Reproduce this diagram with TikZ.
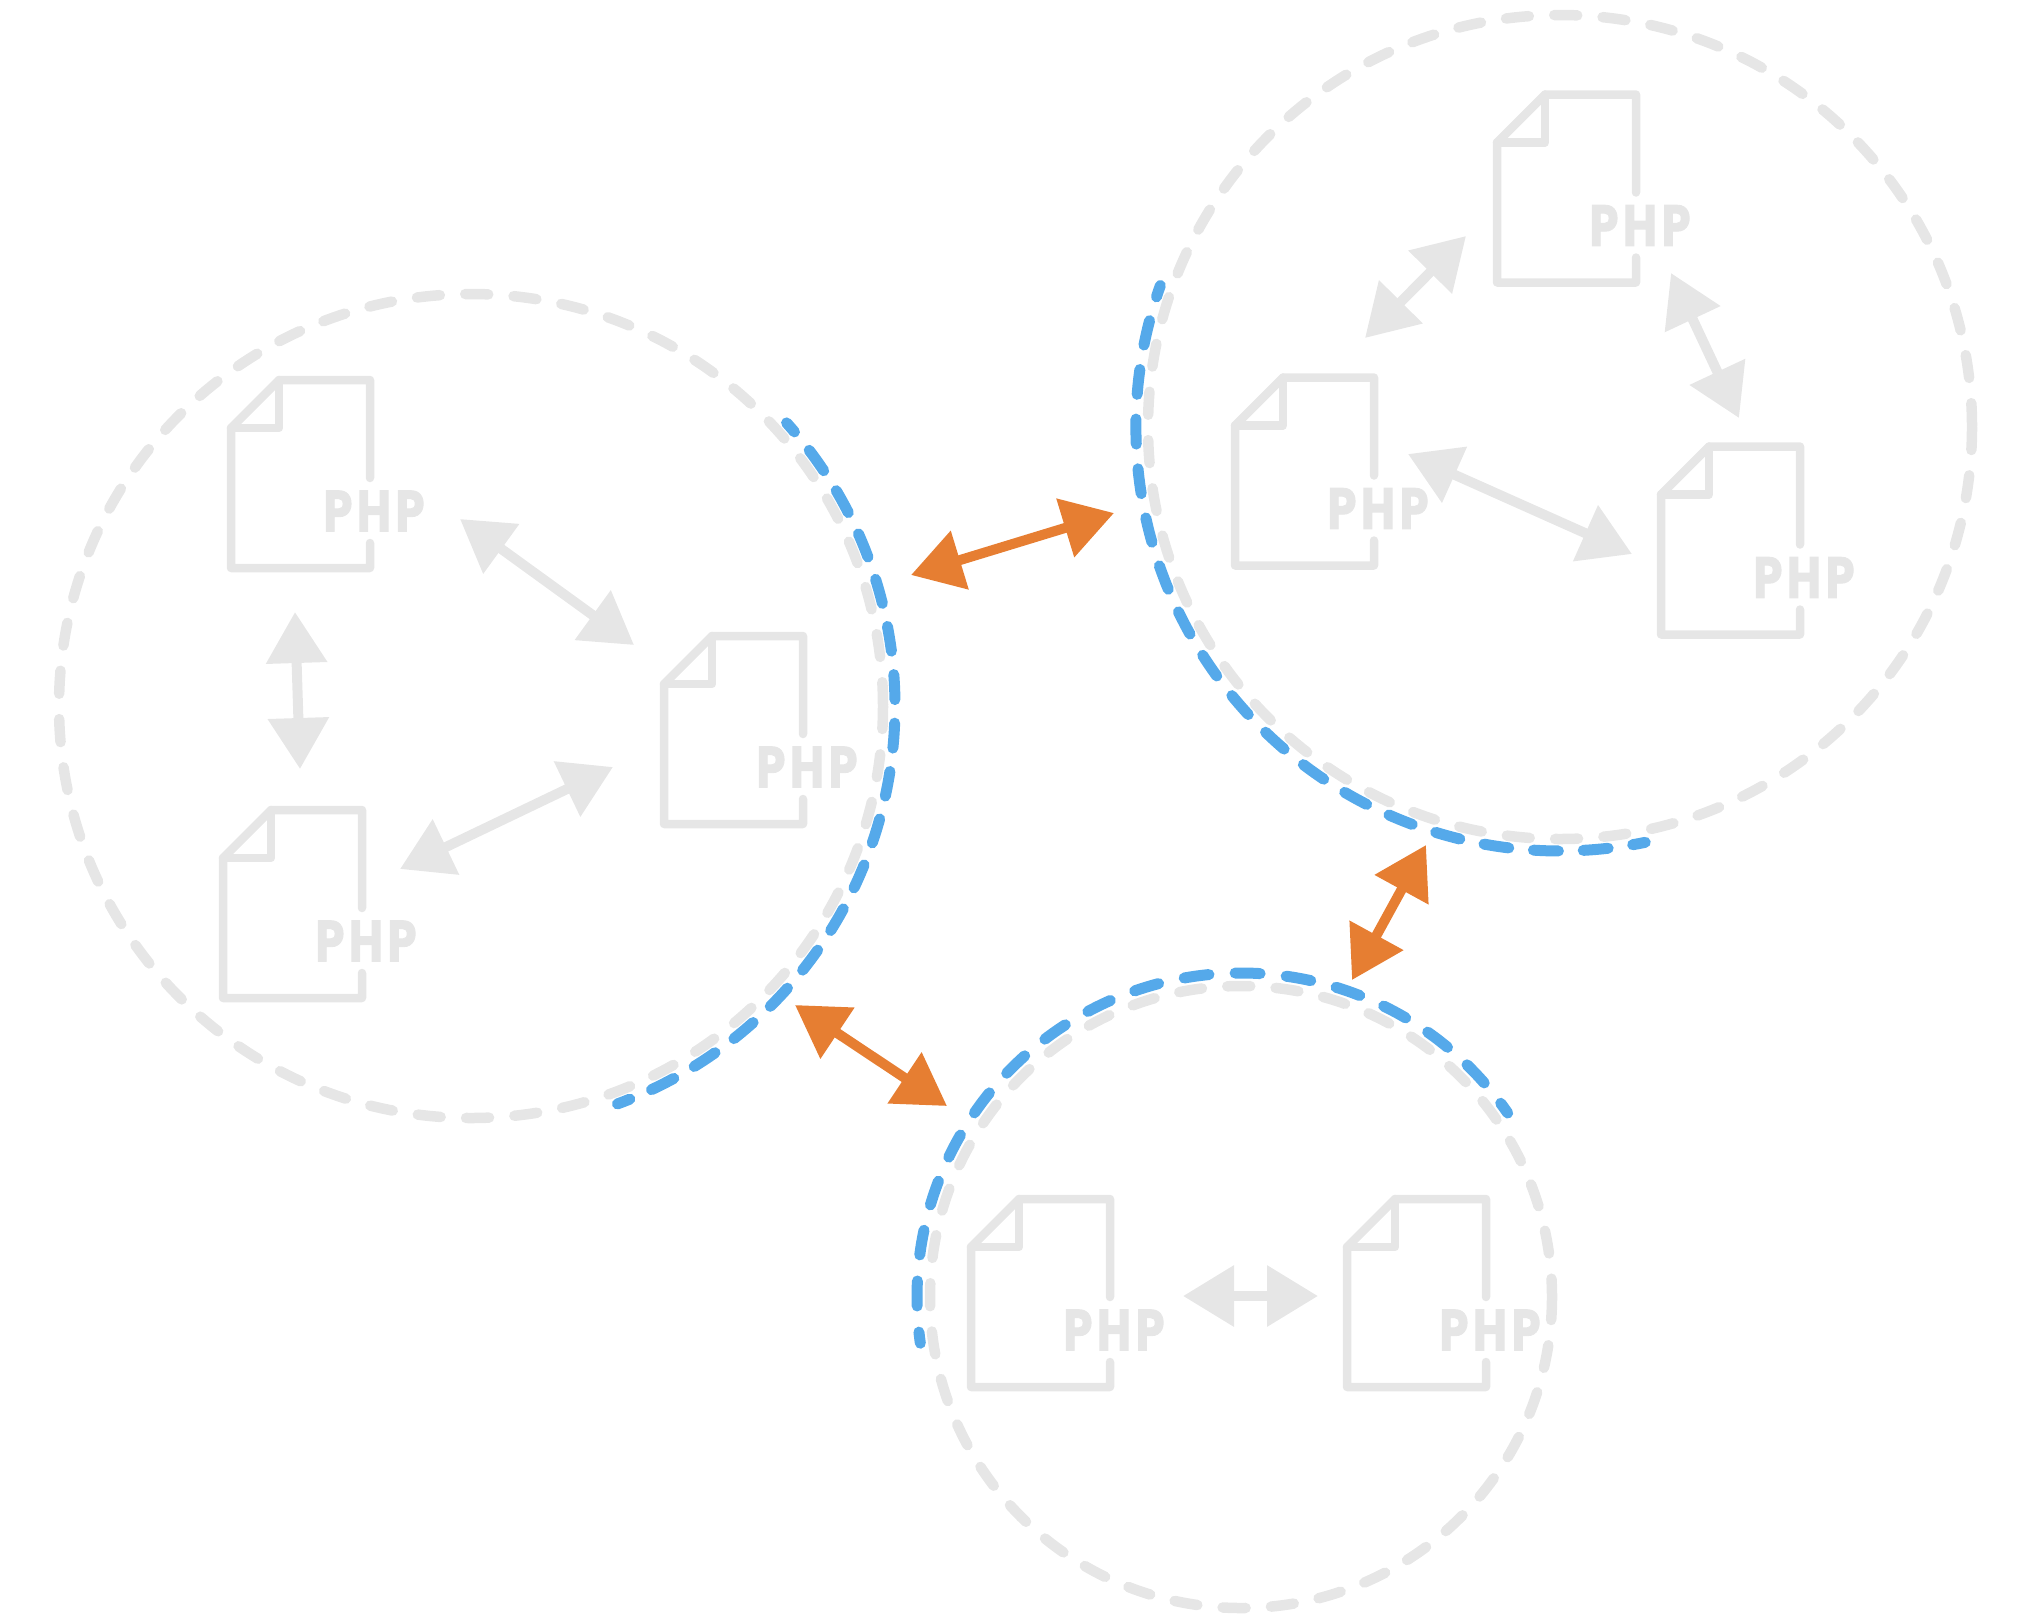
\documentclass[tikz,border=0pt]{standalone}
\usepackage{fontspec}
\usetikzlibrary{arrows.meta}
\newfontfamily\phpfont{Poppins}[FakeStretch=0.8,LetterSpace=8,FakeBold=1.5]
\definecolor{lightgray}{HTML}{E6E6E6}
\definecolor{dashblue}{HTML}{55A9EA}
\definecolor{linkorange}{HTML}{E67E32}
\tikzset{
  filestyle/.style={draw=lightgray, line width=8.5pt, line join=round, line cap=round},
  phptext/.style={text=lightgray, inner sep=0pt, font=\phpfont\bfseries\fontsize{58}{58}\selectfont},
  area/.style={draw=lightgray, line width=10.5pt, line cap=round, dash pattern=on 23pt off 25.4pt},
  areaedge/.style={draw=dashblue, line width=11pt, line cap=round, dash pattern=on 25pt off #1pt, dash phase=13pt},
  link/.style={line width=10pt, draw=lightgray, fill=lightgray, {Triangle[length=51pt,width=59pt]}-{Triangle[length=51pt,width=59pt]}},
  orangelink/.style={link, draw=linkorange, fill=linkorange}
}
\begin{document}
\begin{tikzpicture}[x=1pt, y=-1pt]
\useasboundingbox (0,0) rectangle (2036,1618);
% Zones
\draw[area] (471,706) circle (412);
\draw[area] (1560,427) circle (412);
\draw[area] (1241,1297) circle (311);
% Zone edges
\draw[areaedge=23.6] (471,706) ++(-41.9:424) arc[start angle=-41.9, end angle=69.8, radius=424];
\draw[areaedge=24.8] (1560,427) ++(199.5:424) arc[start angle=199.5, end angle=78.4, radius=424];
\draw[areaedge=26.2] (1241,1297) ++(-34.6:324) arc[start angle=-34.6, end angle=-188.2, radius=324];
% Files
\foreach \name/\x/\y in {fileA/231/380,fileB/223/810,fileC/664/636,fileD/1497/94.5,fileE/1235/377.5,fileF/1661/446.5,fileG/971/1199,fileH/1347/1199} {
  \draw[filestyle] (\x+139,\y+98) -- (\x+139,\y) -- (\x+48,\y) -- (\x,\y+48) -- (\x,\y+188) -- (\x+139,\y+188) -- (\x+139,\y+163);
  \draw[filestyle] (\x+48,\y) -- (\x+48,\y+48) -- (\x,\y+48);
  \node[phptext] (\name) at (\x+143,\y+131) {PHP};
}
% Link ends
\foreach \name/\x/\y in {aa/460/519,ab/634/645,ba/295/612,bb/300/769,ca/400/869,cb/613/767,da/1466/236,db/1365/338,ea/1671/273,eb/1739/418,fa/1408/454,fb/1632/554,ga/1183/1296,gb/1318/1296,oa/911/575,ob/1114/513,pa/1426/845,pb/1352/980,qa/795/1005,qb/947/1106} {
  \coordinate (\name) at (\x,\y);
}
% Links
\foreach \from/\to in {aa/ab,ba/bb,ca/cb,da/db,ea/eb,fa/fb,ga/gb} {
  \draw[link] (\from) -- (\to);
}
\foreach \from/\to in {oa/ob,pa/pb,qa/qb} {
  \draw[orangelink] (\from) -- (\to);
}
\end{tikzpicture}
\end{document}
